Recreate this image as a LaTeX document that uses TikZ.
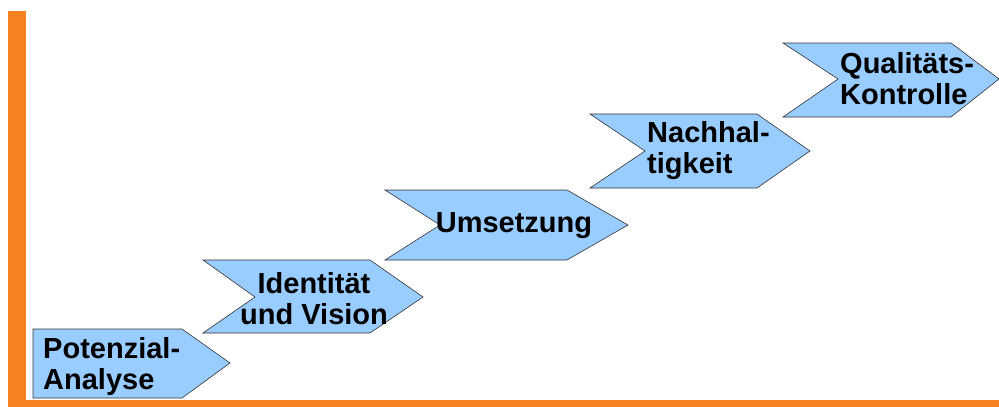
\documentclass[tikz,border=0pt]{standalone}
\usepackage{fontspec}
\setmainfont{Liberation Sans}
\definecolor{barorange}{HTML}{F58220}
\definecolor{stepblue}{HTML}{99CCFF}
\begin{document}
\begin{tikzpicture}[x=1pt,y=-1pt,
  chev/.style={fill=stepblue,draw=black!80,line width=0.6pt,line join=miter},
  lbl/.style={font=\fontsize{29}{31}\selectfont\bfseries,inner sep=0pt,text=black}]
\useasboundingbox (0,0) rectangle (999,407);
% orange frame
\fill[barorange] (8,11) rectangle (26,407);
\fill[barorange] (8,400) rectangle (999,407);
% chevrons
\draw[chev] (33,329) -- (182,329) -- (230,363) -- (182,398) -- (33,398) -- cycle;
\draw[chev] (203,260) -- (370,260) -- (423,297) -- (370,333) -- (203,333) -- (255,297) -- cycle;
\draw[chev] (385,190) -- (567,190) -- (628,225) -- (567,260) -- (385,260) -- (440,225) -- cycle;
\draw[chev] (590,114) -- (757,114) -- (810,151) -- (757,188) -- (590,188) -- (645,151) -- cycle;
\draw[chev] (783,43) -- (951,43) -- (999,79) -- (951,117) -- (783,117) -- (838,79) -- cycle;
% labels
\node[lbl,align=left,anchor=west] (t1) at (43,366) {Potenzial-\\Analyse};
\node[lbl,align=center] (t2) at (314,299) {Identität\\und Vision};
\node[lbl] (t3) at (514,226) {Umsetzung};
\node[lbl,align=left,anchor=west] (t4) at (647,151) {Nachhal-\\tigkeit};
\node[lbl,align=left,anchor=west] (t5) at (840,79) {Qualitäts-\\Kontrolle};
\end{tikzpicture}
\end{document}
